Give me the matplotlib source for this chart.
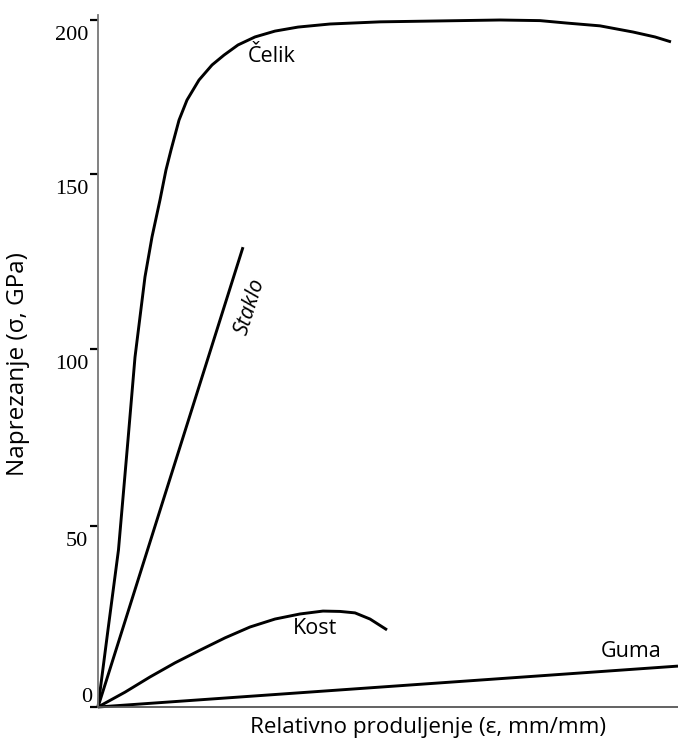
import numpy as np
import matplotlib
matplotlib.use("Agg")
import matplotlib.pyplot as plt
import matplotlib.transforms as mtransforms

# ---- data ----
celik_eps = [0, 1.72, 3.53, 5.17, 6.38, 8.10, 9.31, 10.69, 11.72, 12.59, 13.97, 15.34,
             17.41, 19.66, 21.72, 24.14, 27.07, 30.52, 34.48, 40.0, 48.62, 58.97, 69.31,
             76.21, 80.86, 86.55, 92.24, 96.03, 98.79]
celik_sig = [0, 21.3, 43.4, 74.3, 97.7, 120.6, 132.0, 142.6, 151.3, 157.8, 167.5, 174.0,
             180.5, 185.4, 188.6, 191.9, 194.5, 196.4, 197.7, 198.7, 199.4, 199.7, 200.0,
             199.8, 199.0, 198.1, 196.1, 194.5, 192.9]

staklo_eps = [0, 25.0]
staklo_sig = [0, 129.1]

kost_eps = [0, 4.66, 8.97, 13.28, 17.59, 21.90, 26.21, 30.52, 34.83, 38.79, 41.72,
            44.31, 46.90, 49.83]
kost_sig = [0, 4.1, 8.3, 12.2, 15.7, 19.1, 22.1, 24.3, 25.7, 26.5, 26.4, 26.0, 24.3, 21.3]

guma_eps = [0, 100]
guma_sig = [0, 11.3]

yticks = [0, 50, 100, 150, 200]
ytick_labels = ["0", "50", "100", "150", "200"]

ylabel = "Naprezanje (σ, GPa)"
xlabel = "Relativno produljenje (ε, mm/mm)"

# hand-drawn axis of the original: tick spacing is slightly uneven
_tv = np.array([-50, 0, 50, 100, 150, 200, 250], dtype=float)
_tp = np.array([-181, 0, 181, 358, 533, 687, 841], dtype=float)


def fwd(v):
    return np.interp(v, _tv, _tp)


def inv(p):
    return np.interp(p, _tp, _tv)


W, H = 678, 746
fig = plt.figure(figsize=(W / 100, H / 100), dpi=100)
ax = fig.add_axes([98 / W, (746 - 707) / H, 1 - 98 / W, (707 - 15) / H])
ax.set_yscale("function", functions=(fwd, inv))
ax.set_xlim(0, 100)
ax.set_ylim(0, inv(692))

for s in ["top", "right"]:
    ax.spines[s].set_visible(False)
ax.spines["left"].set_color("#777777")
ax.spines["left"].set_linewidth(1.3)
ax.spines["bottom"].set_color("#555555")
ax.spines["bottom"].set_linewidth(1.3)

ax.set_xticks([])
ax.set_yticks(yticks)
ax.yaxis.set_minor_locator(matplotlib.ticker.NullLocator())
ax.tick_params(axis="y", direction="out", length=6, width=1.6, color="black",
               labelleft=False)

lw = 2.1
kw = dict(color="black", lw=lw, solid_capstyle="butt", solid_joinstyle="round",
          clip_on=False)
ax.plot(celik_eps, celik_sig, **kw)
ax.plot(staklo_eps, staklo_sig, **kw)
ax.plot(kost_eps, kost_sig, **kw)
ax.plot(guma_eps, guma_sig, **kw)

# y tick labels (serif, below-left of the tick)
serif = ["Liberation Serif", "DejaVu Serif"]
ytr = ax.get_yaxis_transform()
down = mtransforms.ScaledTranslation(0, -6 / 100, fig.dpi_scale_trans)
for v, lab in zip(yticks, ytick_labels):
    if v == 0:
        ax.text(-6 / 580, v, lab, transform=ytr, ha="right", va="bottom",
                fontsize=16, family=serif)
    else:
        ax.text(-10 / 580, v, lab, transform=ytr + down, ha="right", va="top",
                fontsize=16, family=serif)

sans = ["Open Sans", "DejaVu Sans"]
fs = 15.5
ax.text(30.0, 188.0, "Čelik", ha="center", va="center", fontsize=fs, family=sans)
ax.text(37.4, 21.8, "Kost", ha="center", va="center", fontsize=fs, family=sans)
ax.text(91.9, 15.2, "Guma", ha="center", va="center", fontsize=fs, family=sans)
ax.text(26.2, 112, "Staklo", ha="center", va="center", fontsize=fs, family=sans,
        rotation=72.5, rotation_mode="anchor", style="italic")

fig.text(428 / W, 1 - 728 / H, xlabel, ha="center", va="center", fontsize=16.2,
         family=sans)
fig.text(18 / W, 1 - 364 / H, ylabel, ha="center", va="center", fontsize=17.5,
         family=sans, rotation=90)

fig.savefig("out.png", dpi=100)
